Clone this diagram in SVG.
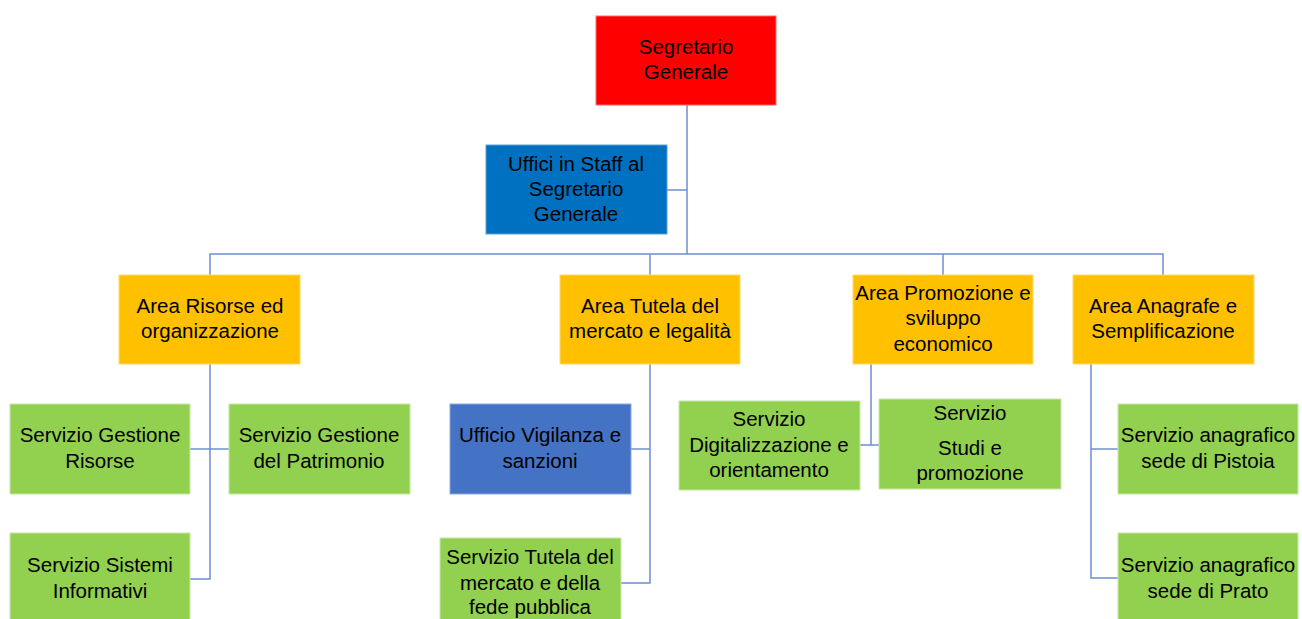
<svg xmlns="http://www.w3.org/2000/svg" width="1302" height="619" viewBox="0 0 1302 619">
<style>
text{font-family:"Liberation Sans",Arial,sans-serif;font-size:20.5px;fill:#000;text-anchor:middle}
.red{fill:#FF0000;stroke:#FF6B6B;stroke-width:1}
.staff{fill:#0070C0;stroke:#5A9FD6;stroke-width:1}
.area{fill:#FFC000;stroke:#FFD966;stroke-width:1}
.uff{fill:#4472C4;stroke:#8EA9DB;stroke-width:1}
.serv{fill:#92D050;stroke:#C6E8A8;stroke-width:1}
.conn path{fill:none;stroke:#6F8FCF;stroke-width:1.5}
</style>
<rect width="1302" height="619" fill="#fff"/>
<g class="conn">
<path d="M687,105 V254"/>
<path d="M667,190 H687"/>
<path d="M210,275 V254 H1163 V275"/>
<path d="M650,254 V275"/>
<path d="M943,254 V275"/>
<path d="M210,364 V579 H190"/>
<path d="M190,449 H229"/>
<path d="M650,364 V583 H621"/>
<path d="M631,449 H650"/>
<path d="M871,364 V445 H860"/>
<path d="M871,445 H879"/>
<path d="M1091,364 V578 H1118"/>
<path d="M1091,449 H1118"/>
</g>
<g id="segretario"><rect class="red" x="596" y="16" width="180" height="89"/><text x="686" y="54">Segretario</text><text x="686" y="79">Generale</text></g>
<g id="staff"><rect class="staff" x="486" y="145" width="181" height="89"/><text x="576" y="171">Uffici in Staff al</text><text x="576" y="196">Segretario</text><text x="576" y="221">Generale</text></g>
<g id="area-risorse"><rect class="area" x="119" y="275" width="181" height="89"/><text x="210" y="313">Area Risorse ed</text><text x="210" y="338">organizzazione</text></g>
<g id="area-tutela"><rect class="area" x="560" y="275" width="180" height="89"/><text x="650" y="313">Area Tutela del</text><text x="650" y="338">mercato e legalità</text></g>
<g id="area-promozione"><rect class="area" x="853" y="275" width="180" height="89"/><text x="943" y="300">Area Promozione e</text><text x="943" y="325">sviluppo</text><text x="943" y="351">economico</text></g>
<g id="area-anagrafe"><rect class="area" x="1073" y="275" width="181" height="89"/><text x="1163" y="313">Area Anagrafe e</text><text x="1163" y="338">Semplificazione</text></g>
<g id="serv-gestione-risorse"><rect class="serv" x="10" y="404" width="180" height="90"/><text x="100" y="442">Servizio Gestione</text><text x="100" y="468">Risorse</text></g>
<g id="serv-gestione-patrimonio"><rect class="serv" x="229" y="404" width="181" height="90"/><text x="319" y="442">Servizio Gestione</text><text x="319" y="468">del Patrimonio</text></g>
<g id="serv-sistemi"><rect class="serv" x="10" y="533" width="180" height="90"/><text x="100" y="572">Servizio Sistemi</text><text x="100" y="598">Informativi</text></g>
<g id="uff-vigilanza"><rect class="uff" x="450" y="404" width="181" height="90"/><text x="540" y="442">Ufficio Vigilanza e</text><text x="540" y="468">sanzioni</text></g>
<g id="serv-tutela"><rect class="serv" x="440" y="538" width="181" height="85"/><text x="530" y="564">Servizio Tutela del</text><text x="530" y="590">mercato e della</text><text x="530" y="614">fede pubblica</text></g>
<g id="serv-digitalizzazione"><rect class="serv" x="679" y="401" width="181" height="89"/><text x="769" y="426">Servizio</text><text x="769" y="452">Digitalizzazione e</text><text x="769" y="477">orientamento</text></g>
<g id="serv-studi"><rect class="serv" x="879" y="399" width="182" height="90"/><text x="970" y="420">Servizio</text><text x="970" y="455">Studi e</text><text x="970" y="480">promozione</text></g>
<g id="serv-pistoia"><rect class="serv" x="1118" y="404" width="180" height="90"/><text x="1208" y="442">Servizio anagrafico</text><text x="1208" y="468">sede di Pistoia</text></g>
<g id="serv-prato"><rect class="serv" x="1118" y="533" width="180" height="90"/><text x="1208" y="572">Servizio anagrafico</text><text x="1208" y="598">sede di Prato</text></g>
</svg>
